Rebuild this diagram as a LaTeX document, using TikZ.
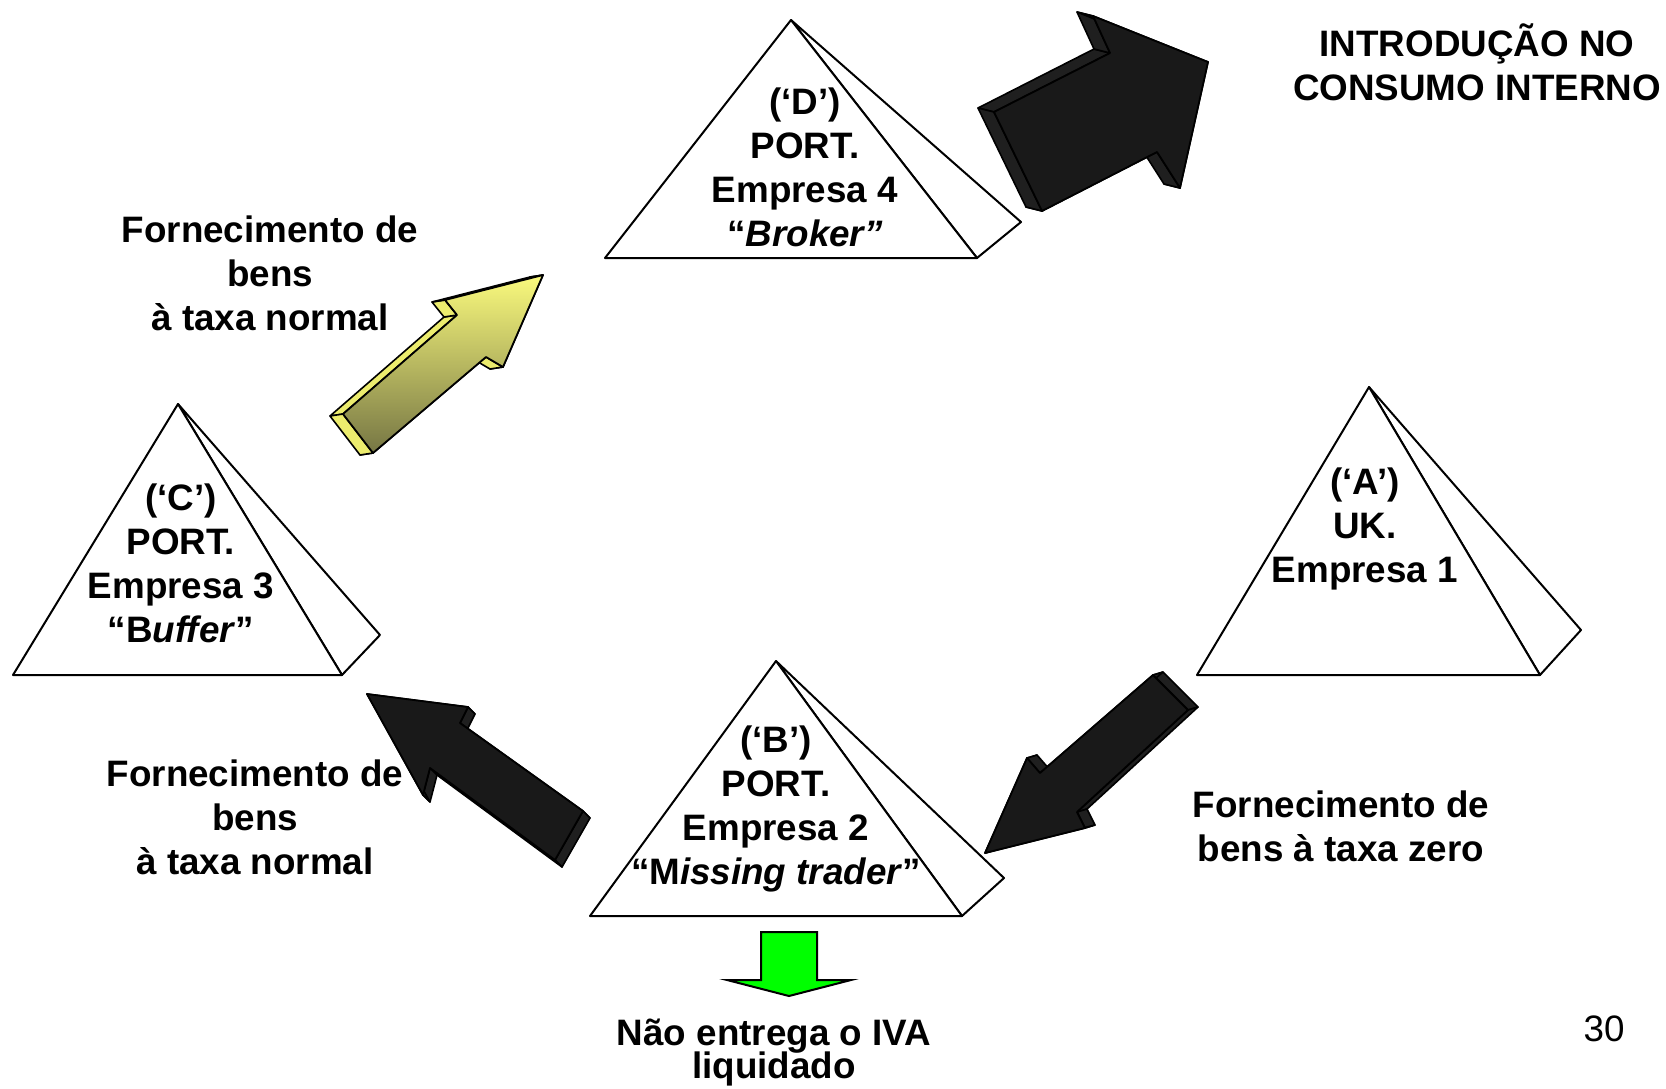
\documentclass[tikz,border=0pt]{standalone}
\usepackage{fontspec}
\setmainfont{Liberation Sans}
\usepackage{tikz}
\usetikzlibrary{positioning,calc}

\begin{document}
\begin{tikzpicture}[
		x=0.5pt, y=-0.5pt,
		font=\bfseries\fontsize{18.4}{22}\selectfont,
		pyr/.style={draw, fill=white, line width=1pt, line join=round},
		lbl/.style={align=center, inner sep=0pt},
		darkside/.style={draw=black, fill=black!88, line width=0.8pt, line join=round},
		darkface/.style={draw=black, fill=black!90, line width=0.9pt, line join=round},
		yelside/.style={draw=black, fill={rgb,255:red,236;green,236;blue,110}, line width=0.8pt, line join=round},
		yelface/.style={draw=black, line width=0.9pt, line join=round,
				top color={rgb,255:red,250;green,250;blue,125},
				bottom color={rgb,255:red,118;green,118;blue,68}},
		greenarr/.style={draw=black, fill={rgb,255:red,0;green,255;blue,0}, line width=1pt}
		]
		\useasboundingbox (0,0) rectangle (1666,1088);

		% pyramids: apex, side corner, base right, base left
		\filldraw[pyr] (791,20) coordinate (D-top) -- (1021,222) coordinate (D-side)
			-- (977,258) coordinate (D-right) -- cycle;
		\filldraw[pyr] (D-top) -- (605,258) coordinate (D-left) -- (D-right) -- cycle;
		\filldraw[pyr] (1369,387) coordinate (A-top) -- (1581,630) coordinate (A-side)
			-- (1540,675) coordinate (A-right) -- cycle;
		\filldraw[pyr] (A-top) -- (1197,675) coordinate (A-left) -- (A-right) -- cycle;
		\filldraw[pyr] (178,404) coordinate (C-top) -- (380,635) coordinate (C-side)
			-- (342,675) coordinate (C-right) -- cycle;
		\filldraw[pyr] (C-top) -- (13,675) coordinate (C-left) -- (C-right) -- cycle;
		\filldraw[pyr] (776,661) coordinate (B-top) -- (1004,878) coordinate (B-side)
			-- (962,916) coordinate (B-right) -- cycle;
		\filldraw[pyr] (B-top) -- (590,916) coordinate (B-left) -- (B-right) -- cycle;

		\node[lbl] (firmD) at (805,167) {(‘D’)\\PORT.\\Empresa 4\\“\textit{Broker”}};
		\node[lbl] (firmA) at (1365,529) {(‘A’)\\UK.\\Empresa 1};
		\node[lbl] (firmC) at (181,563) {(‘C’)\\PORT.\\Empresa 3\\“B\textit{uffer}”};
		\node[lbl] (firmB) at (776,809) {(‘B’)\\PORT.\\Empresa 2\\“M\textit{issing trader}”};

		% block arrow into consumption (D)
		\path (994,112) coordinate (out1) (1110,53) coordinate (out2)
			(1093,16) coordinate (out3) (1208,62) coordinate (out4)
			(1180,188) coordinate (out5) (1157,152) coordinate (out6)
			(1042,211) coordinate (out7);
		\foreach \i/\j in {1/2,2/3,3/4,4/5,5/6,6/7,7/1}
			\filldraw[darkside] (out\i) -- (out\j) -- ([shift={(-16,-4)}]out\j)
				-- ([shift={(-16,-4)}]out\i) -- cycle;
		\filldraw[darkface] (out1) -- (out2) -- (out3) -- (out4) -- (out5)
			-- (out6) -- (out7) -- cycle;

		% block arrow A -> B
		\path (1153,675) coordinate (ab1) (1188,710) coordinate (ab2)
			(1077,812) coordinate (ab3) (1085,828) coordinate (ab4)
			(985,853) coordinate (ab5) (1027,758) coordinate (ab6)
			(1040,773) coordinate (ab7);
		\foreach \i/\j in {1/2,2/3,3/4,4/5,5/6,6/7,7/1}
			\filldraw[darkside] (ab\i) -- (ab\j) -- ([shift={(10,-3)}]ab\j)
				-- ([shift={(10,-3)}]ab\i) -- cycle;
		\filldraw[darkface] (ab1) -- (ab2) -- (ab3) -- (ab4) -- (ab5)
			-- (ab6) -- (ab7) -- cycle;

		% block arrow B -> C
		\path (367,694) coordinate (bc1) (468,707) coordinate (bc2)
			(460,723) coordinate (bc3) (583,811) coordinate (bc4)
			(555,860) coordinate (bc5) (430,768) coordinate (bc6)
			(423,795) coordinate (bc7);
		\foreach \i/\j in {1/2,2/3,3/4,4/5,5/6,6/7,7/1}
			\filldraw[darkside] (bc\i) -- (bc\j) -- ([shift={(7,7)}]bc\j)
				-- ([shift={(7,7)}]bc\i) -- cycle;
		\filldraw[darkface] (bc1) -- (bc2) -- (bc3) -- (bc4) -- (bc5)
			-- (bc6) -- (bc7) -- cycle;

		% block arrow C -> D (yellow)
		\path (343,414) coordinate (cd1) (457,315) coordinate (cd2)
			(445,300) coordinate (cd3) (543,275) coordinate (cd4)
			(503,367) coordinate (cd5) (486,357) coordinate (cd6)
			(373,453) coordinate (cd7);
		\foreach \i/\j in {1/2,2/3,3/4,4/5,5/6,6/7,7/1}
			\filldraw[yelside] (cd\i) -- (cd\j) -- ([shift={(-13,2)}]cd\j)
				-- ([shift={(-13,2)}]cd\i) -- cycle;
		\filldraw[yelface] (cd1) -- (cd2) -- (cd3) -- (cd4) -- (cd5)
			-- (cd6) -- (cd7) -- cycle;

		% green arrow below B
		\filldraw[greenarr] (761,932) -- (817,932) -- (817,980) -- (851,980)
			-- (789,996) -- (727,980) -- (761,980) -- cycle;

		\node[lbl] (consumo) at (1477,62) {INTRODUÇÃO NO\\CONSUMO INTERNO};
		\node[lbl] (supplyCD) at (270,273) {Fornecimento de\\bens\\à taxa normal};
		\node[lbl] (supplyBC) at (255,817) {Fornecimento de\\bens\\à taxa normal};
		\node[lbl] (supplyAB) at (1341,826) {Fornecimento de\\bens à taxa zero};
		\node[lbl] (iva) at (774,1053) {Não entrega o IVA\\[-5.5pt]liquidado};
		\node[lbl, font=\mdseries\fontsize{18.4}{22}\selectfont] (page) at (1604,1029) {30};
	\end{tikzpicture}
\end{document}
